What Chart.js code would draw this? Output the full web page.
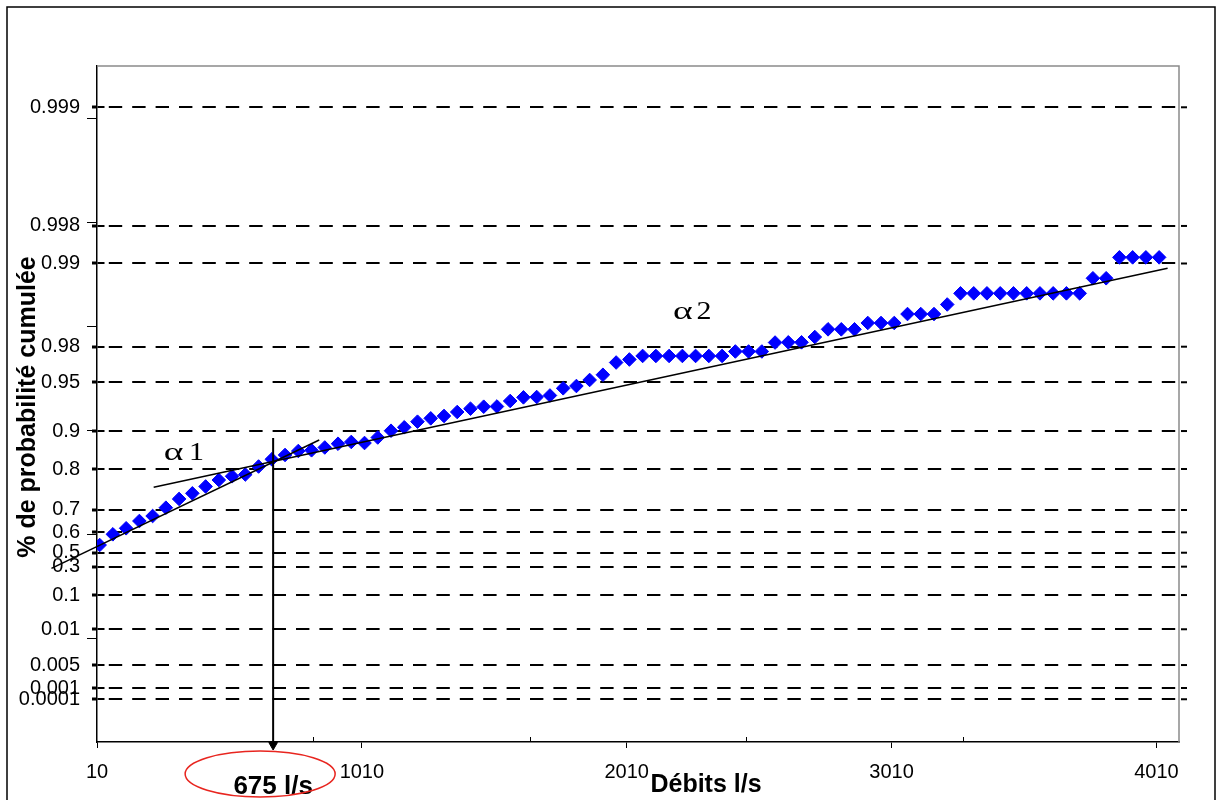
<!DOCTYPE html>
<html>
<head>
<meta charset="utf-8">
<script src="https://cdn.jsdelivr.net/npm/chart.js@4.4.1/dist/chart.umd.min.js"></script>
<style>
  html, body { margin: 0; padding: 0; background: #fff; }
  #wrap { width: 1223px; height: 800px; position: relative; }
</style>
</head>
<body>
<div id="wrap"><canvas id="graphe" width="1223" height="800"></canvas></div>
<script>
// Débits classés (l/s)
const debits = [20,70,120,170,220,270,320,370,420,470,520,570,620,670,720,770,820,870,920,970,
  1020,1070,1120,1170,1220,1270,1320,1370,1420,1470,1520,1570,1620,1670,1720,1770,1820,1870,1920,1970,
  2020,2070,2120,2170,2220,2270,2320,2370,2420,2470,2520,2570,2620,2670,2720,2770,2820,2870,2920,2970,
  3020,3070,3120,3170,3220,3270,3320,3370,3420,3470,3520,3570,3620,3670,3720,3770,3820,3870,3920,3970,4020];

// Probabilité cumulée, exprimée en variable réduite (axe vertical)
const variableReduite = [1.894,1.997,2.055,2.125,2.173,2.253,2.337,2.391,2.457,2.519,
  2.555,2.572,2.649,2.718,2.760,2.798,2.805,2.832,2.868,2.885,
  2.875,2.928,2.993,3.026,3.080,3.112,3.135,3.173,3.205,3.224,
  3.226,3.279,3.314,3.317,3.332,3.401,3.423,3.481,3.531,3.649,
  3.678,3.712,3.712,3.712,3.712,3.712,3.712,3.712,3.755,3.755,
  3.755,3.841,3.843,3.843,3.894,3.968,3.968,3.968,4.029,4.029,
  4.029,4.115,4.115,4.115,4.207,4.314,4.314,4.314,4.314,4.314,
  4.314,4.314,4.314,4.314,4.314,4.459,4.459,4.660,4.660,4.660,4.660];

// Niveaux de probabilité repérés sur l'axe vertical
const niveauxValeurs = [0.411,0.519,0.740,1.084,1.413,1.686,1.820,2.016,2.231,2.625,2.990,3.459,3.801,4.601,4.962,6.103];
const niveauxLibelles = ['0.0001','0.001','0.005','0.01','0.1','0.3','0.5','0.6','0.7','0.8','0.9','0.95','0.98','0.99','0.998','0.999'];

// Graduations de l'axe des débits
const debitsGraduations = [10,1010,2010,3010,4010];

// Droites d'ajustement (pentes α1 et α2)
const droiteAlpha1 = [{x:-162, y:1.670}, {x:849, y:2.904}];
const droiteAlpha2 = [{x:224, y:2.449}, {x:4052, y:4.555}];

// Débit de rupture de pente
const debitRupture = 675;
const rupture = [{x:debitRupture, y:2.923}, {x:debitRupture, y:-0.029}];

// Pointillés des niveaux : petit trait initial puis tirets réguliers
const motifTirets = [7, 4.3];
for (let i = 0; i < 60; i++) motifTirets.push(13.4, 10);

// Texte étiré horizontalement (symboles des pentes)
function texteEtire(ctx, txt, px, py, fx) {
  ctx.save();
  ctx.translate(px, py);
  ctx.scale(fx, 1);
  ctx.fillText(txt, 0, 0);
  ctx.restore();
}

const decor = {
  id: 'decor',
  beforeDraw(chart) {
    const ctx = chart.ctx;
    ctx.save();
    ctx.fillStyle = '#fff';
    ctx.fillRect(0, 0, chart.width, chart.height);
    ctx.restore();
  },
  afterDraw(chart) {
    const {ctx, chartArea: a, scales: {x, y}} = chart;
    ctx.save();

    // prolongement des pointillés au-delà du cadre
    ctx.strokeStyle = '#000';
    ctx.lineWidth = 2;
    niveauxValeurs.forEach(v => {
      const py = y.getPixelForValue(v);
      ctx.beginPath();
      ctx.moveTo(a.right + 2, py);
      ctx.lineTo(a.right + 8, py);
      ctx.stroke();
    });

    // cadre de la zone de tracé (haut et droite)
    ctx.strokeStyle = '#8a8a8a';
    ctx.lineWidth = 1.5;
    ctx.beginPath();
    ctx.moveTo(a.left, a.top);
    ctx.lineTo(a.right, a.top);
    ctx.lineTo(a.right, a.bottom);
    ctx.stroke();

    // graduations secondaires
    ctx.strokeStyle = '#000';
    ctx.lineWidth = 1;
    for (let v = 1; v <= Math.floor(y.max); v++) {
      const py = Math.round(y.getPixelForValue(v)) + 0.5;
      ctx.beginPath();
      ctx.moveTo(a.left - 10, py);
      ctx.lineTo(a.left, py);
      ctx.stroke();
    }
    for (let k = 1; k < 5; k++) {
      const px = Math.round(x.getPixelForValue(x.min + k * (x.max - x.min) / 5)) + 0.5;
      ctx.beginPath();
      ctx.moveTo(px, a.bottom);
      ctx.lineTo(px, a.bottom - 5);
      ctx.stroke();
    }

    // cadre général
    ctx.lineWidth = 1.5;
    ctx.strokeRect(7, 7, 1208, 840);

    // titres des axes
    ctx.fillStyle = '#000';
    ctx.font = 'bold 25px "Liberation Sans", Arial, sans-serif';
    ctx.textAlign = 'center';
    ctx.textBaseline = 'alphabetic';
    ctx.fillText('Débits l/s', 706, 792);

    ctx.save();
    ctx.translate(35, 407);
    ctx.rotate(-Math.PI / 2);
    ctx.fillText('% de probabilité cumulée', 0, 0);
    ctx.restore();

    // pentes
    ctx.textAlign = 'left';
    ctx.font = '25px "Liberation Serif", "Times New Roman", serif';
    texteEtire(ctx, 'α', x.getPixelForValue(262), y.getPixelForValue(2.712), 1.5);
    texteEtire(ctx, '1', x.getPixelForValue(357), y.getPixelForValue(2.712), 1.2);
    texteEtire(ctx, 'α', x.getPixelForValue(2185), y.getPixelForValue(4.064), 1.5);
    texteEtire(ctx, '2', x.getPixelForValue(2273), y.getPixelForValue(4.064), 1.2);

    // débit de rupture
    const pr = x.getPixelForValue(debitRupture);
    ctx.textAlign = 'center';
    ctx.font = 'bold 26px "Liberation Sans", Arial, sans-serif';
    ctx.fillText(debitRupture + ' l/s', pr, 794);
    ctx.strokeStyle = '#e8251f';
    ctx.lineWidth = 1.5;
    ctx.beginPath();
    ctx.ellipse(pr - 13, 774, 75, 23, 0, 0, Math.PI * 2);
    ctx.stroke();

    ctx.restore();
  }
};

new Chart(document.getElementById('graphe'), {
  type: 'scatter',
  data: {
    datasets: [
      {
        data: droiteAlpha1, showLine: true, borderColor: '#000', borderWidth: 1.5,
        pointRadius: 0, clip: false
      },
      {
        data: droiteAlpha2, showLine: true, borderColor: '#000', borderWidth: 1.5,
        pointRadius: 0, clip: false
      },
      {
        data: rupture, showLine: true, borderColor: '#000', borderWidth: 2,
        pointRadius: [0, 5], pointStyle: 'triangle', pointRotation: 180,
        pointBackgroundColor: '#000', pointBorderColor: '#000', pointBorderWidth: 1,
        clip: false
      },
      {
        data: debits.map((d, i) => ({x: d, y: variableReduite[i]})),
        showLine: false, pointStyle: 'rectRot', pointRadius: 6.8,
        pointBackgroundColor: '#0000ff', pointBorderColor: '#0000ff', pointBorderWidth: 1
      }
    ]
  },
  options: {
    responsive: false,
    animation: false,
    events: [],
    layout: { padding: { left: 0, top: 66, right: 44, bottom: 0 } },
    plugins: { legend: { display: false }, tooltip: { enabled: false } },
    scales: {
      x: {
        type: 'linear', min: 10, max: 4095,
        afterFit(s) { s.height = 58; },
        afterBuildTicks(s) { s.ticks = debitsGraduations.map(v => ({value: v})); },
        ticks: {
          autoSkip: false, maxRotation: 0, padding: 12, color: '#000',
          font: { family: '"Liberation Sans", Arial, sans-serif', size: 20 },
          callback: v => String(v)
        },
        grid: { drawOnChartArea: false, drawTicks: true, tickLength: 6, tickWidth: 1, color: '#000' },
        border: { display: true, color: '#000', width: 1.5 }
      },
      y: {
        type: 'linear', min: 0, max: 6.5,
        afterFit(s) { s.width = 97; },
        afterBuildTicks(s) { s.ticks = niveauxValeurs.map(v => ({value: v})); },
        ticks: {
          autoSkip: false, padding: 12, color: '#000',
          font: { family: '"Liberation Sans", Arial, sans-serif', size: 20 },
          callback: (v, i) => niveauxLibelles[i]
        },
        grid: {
          drawOnChartArea: true, color: '#000', lineWidth: 2,
          drawTicks: true, tickLength: 5, tickWidth: 3, tickColor: '#000'
        },
        border: { display: true, color: '#000', width: 1.5, dash: motifTirets }
      }
    }
  },
  plugins: [decor]
});
</script>
</body>
</html>
